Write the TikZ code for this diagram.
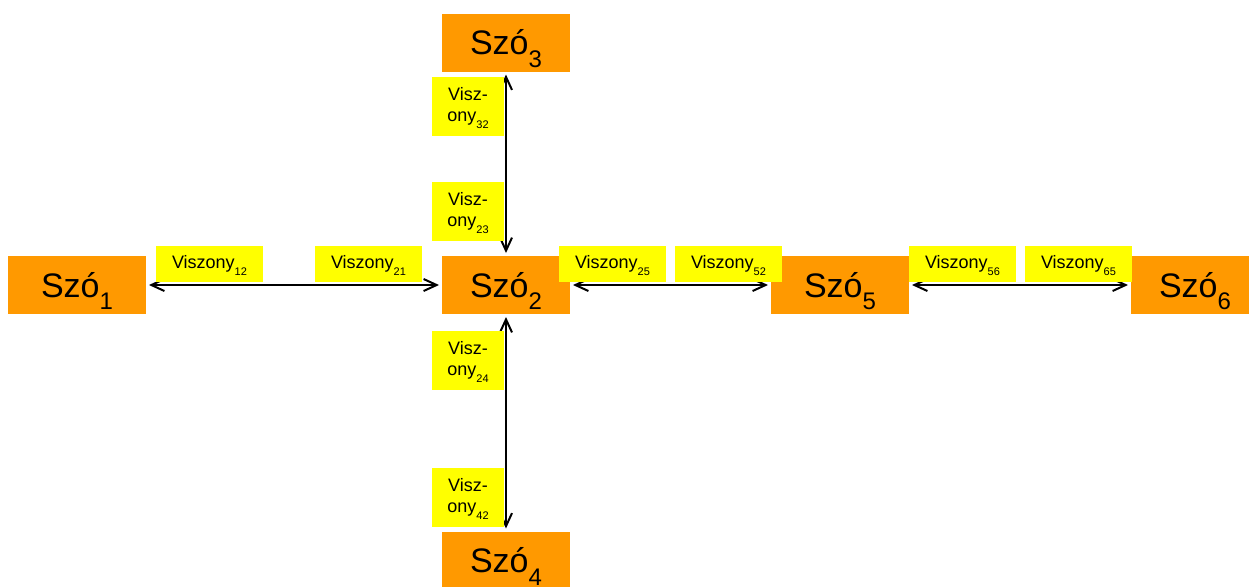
\documentclass[tikz,border=0pt]{standalone}
\usepackage{fontspec}
\setmainfont{Liberation Sans}
\usepackage{xcolor}
\usetikzlibrary{arrows.meta}
\definecolor{szoOrange}{HTML}{FF9900}
\definecolor{viszYellow}{HTML}{FFFF00}
\newcommand*{\szoIdx}[1]{\smash{\raisebox{-0.7ex}{\fontsize{12}{12}\selectfont #1}}}
\newcommand*{\viszIdx}[1]{\smash{\raisebox{-0.7ex}{\fontsize{5.5}{6}\selectfont #1}}}
\newcommand*{\szo}[1]{Szó\szoIdx{#1}}
\newcommand*{\viszonyH}[1]{Viszony\viszIdx{#1}}
\newcommand*{\viszonyV}[1]{Visz-\\ony\viszIdx{#1}}
\tikzset{
	szobox/.style={fill=szoOrange, minimum width=69pt, minimum height=29pt, inner sep=0pt,
		font=\fontsize{17}{20}\selectfont},
	viszbox/.style={fill=viszYellow, minimum width=53.5pt, minimum height=18pt, inner sep=0pt,
		font=\fontsize{9}{10.5}\selectfont},
	viszvbox/.style={viszbox, minimum width=36pt, minimum height=29.5pt, align=center},
}
\begin{document}
\begin{tikzpicture}[x=0.5pt, y=-0.5pt, line width=1pt, >={Straight Barb[length=6.5pt, width=6pt]}]
		\useasboundingbox (0,0) rectangle (1249,586);
		\node[szobox] (s1) at (77,285) {\szo{1}};
		\node[szobox, minimum width=64pt] (s2) at (506,285) {\szo{2}};
		\node[szobox, minimum width=64pt] (s3) at (506,42.5) {\szo{3}};
		\node[szobox, minimum width=64pt] (s4) at (506,560.5) {\szo{4}};
		\node[szobox] (s5) at (840,285) {\szo{5}};
		\node[szobox, minimum width=64pt] (s6) at (1195,285) {\szo{6}};
		\foreach \a/\b in {s1/s2, s2/s5, s5/s6, s3/s2, s2/s4}
		\draw[<->, shorten <=1pt, shorten >=1pt] (\a) -- (\b);
		\node[viszbox] (v12) at (209.5,264) {\viszonyH{12}};
		\node[viszbox] (v21) at (368.5,264) {\viszonyH{21}};
		\node[viszbox] (v25) at (612.5,264) {\viszonyH{25}};
		\node[viszbox] (v52) at (728.5,264) {\viszonyH{52}};
		\node[viszbox] (v56) at (962.5,264) {\viszonyH{56}};
		\node[viszbox] (v65) at (1078.5,264) {\viszonyH{65}};
		\node[viszvbox] (v32) at (468,106.5) {\viszonyV{32}};
		\node[viszvbox] (v23) at (468,211.5) {\viszonyV{23}};
		\node[viszvbox] (v24) at (468,360.5) {\viszonyV{24}};
		\node[viszvbox] (v42) at (468,497.5) {\viszonyV{42}};
	\end{tikzpicture}
\end{document}
